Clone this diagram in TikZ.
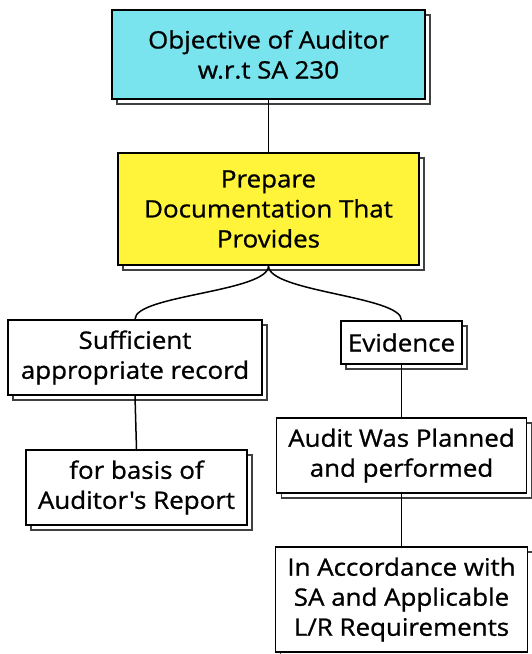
\documentclass[tikz,border=0pt]{standalone}
\usepackage{fontspec}
\setmainfont{Open Sans}
\newfontfamily\cardfont{Open Sans}[FakeBold=0.9, FakeStretch=1.08, Ligatures=ResetAll]
\usetikzlibrary{shadows}
\definecolor{boxcyan}{RGB}{122,228,238}
\definecolor{boxyellow}{RGB}{255,244,58}
\begin{document}
\begin{tikzpicture}[x=1pt,y=1pt,
  card/.style={draw=black, line width=1.8pt, fill=white, align=center,
    inner sep=0pt, font=\cardfont\fontsize{24}{30}\selectfont,
    general shadow={shadow xshift=5pt, shadow yshift=-5pt, fill=white,
      draw=black!75, line width=1.4pt}},
  link/.style={draw=black, line width=1.5pt}]
\useasboundingbox (0,0) rectangle (531,-654);

% top-level objective and its requirement
\node[card, fill=boxcyan, minimum width=313pt, minimum height=89pt]
  (obj) at (268.5,-54.5) {Objective of Auditor\\w.r.t SA 230};
\node[card, fill=boxyellow, minimum width=301pt, minimum height=112pt]
  (prep) at (268.5,-209) {Prepare\\Documentation That\\Provides};

% left branch
\node[card, minimum width=254pt, minimum height=75pt]
  (suff) at (135,-357.5) {Sufficient\\appropriate record};
\node[card, minimum width=221pt, minimum height=75pt]
  (basis) at (136.5,-487.5) {for basis of\\Auditor's Report};

% right branch
\node[card, minimum width=121pt, minimum height=43pt]
  (evid) at (401.5,-342.5) {Evidence};
\node[card, minimum width=250pt, minimum height=75pt]
  (audit) at (401.5,-455.5) {Audit Was Planned\\and performed};
\node[card, minimum width=252pt, minimum height=105pt]
  (accord) at (401.5,-599.5) {In Accordance with\\SA and Applicable\\L/R Requirements};

% connectors
\draw[link] (obj.south) -- (prep.north);
\draw[link] (prep.south) .. controls +(0,-26) and +(0,24) .. (suff.north);
\draw[link] (prep.south) .. controls +(0,-26) and +(0,24) .. (evid.north);
\draw[link] (suff.south) -- (basis.north);
\draw[link] (evid.south) -- (audit.north);
\draw[link] (audit.south) -- (accord.north);
\end{tikzpicture}
\end{document}
